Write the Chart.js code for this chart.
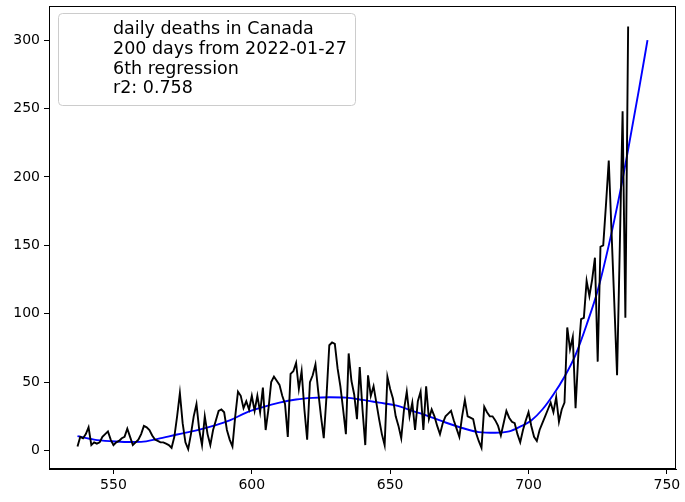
<!DOCTYPE html>
<html>
<head>
<meta charset="utf-8">
<script src="https://cdn.jsdelivr.net/npm/chart.js@4.4.0/dist/chart.umd.min.js"></script>
<style>
  html, body { margin: 0; padding: 0; background: #fff; }
  #wrap { width: 685px; height: 502px; }
</style>
</head>
<body>
<div id="wrap"><canvas id="chart" width="685" height="502"></canvas></div>
<script>
// daily deaths, one value per day starting at day 537
const START_DAY = 537;
const deaths = [
  3, 10, 9, 12, 17, 4, 6, 5, 6, 10,
  12, 14, 8, 4, 6, 7, 9, 10, 16, 10,
  4, 6, 8, 12, 18, 17, 15, 11, 8, 7,
  6, 6, 5, 4, 2, 10, 25, 42, 20, 6,
  1, 12, 25, 34, 15, 4, 25, 12, 4, 15,
  22, 29, 30, 28, 15, 8, 3, 25, 43, 40,
  31, 36, 30, 40, 29, 40, 28, 46, 15, 30,
  50, 54, 51, 48, 40, 34, 10, 56, 58, 64,
  45, 58, 30, 8, 50, 55, 63, 43, 25, 9,
  40, 77, 79, 78, 60, 47, 30, 12, 71, 51,
  41, 23, 61, 30, 4, 55, 40, 47, 35, 23,
  12, 4, 54, 45, 38, 25, 18, 9, 30, 43,
  25, 35, 15, 36, 43, 15, 47, 23, 30, 25,
  18, 12, 20, 25, 27, 29, 22, 16, 10, 25,
  37, 25, 24, 23, 13, 7, 2, 32, 28, 25,
  25, 22, 18, 11, 20, 29, 24, 21, 20, 12,
  6, 15, 22, 28, 18, 10, 7, 15, 20, 25,
  30, 35, 28, 39, 21, 30, 35, 90, 74, 83,
  31, 70, 96, 97, 124, 113, 125, 141, 65, 149,
  150, 180, 212, 160, 108, 55, 150, 248, 97, 310
];

// 6th degree regression curve
const fitDays = [537, 543, 549, 555, 560, 566, 573, 580, 586, 592, 598, 604, 610, 616, 622, 628, 634, 640, 646, 652, 658, 664, 670, 676, 682, 688, 693, 697, 701, 705, 709, 713, 717, 721, 725, 729, 733, 736, 740, 743];
const fitValues = [10.5, 8, 6.8, 6.2, 6.3, 8.5, 11.7, 14.7, 18, 22, 27.8, 31.8, 35, 37.3, 38.5, 39, 38.7, 37, 35, 33, 29, 25, 20.5, 16.5, 13.5, 13, 14, 17.5, 22, 30, 41, 54, 70, 92, 117, 150, 188, 220, 265, 300];

const xTicks = [550, 600, 650, 700, 750];
const yTicks = [0, 50, 100, 150, 200, 250, 300];
const legendLines = ['daily deaths in Canada', '200 days from 2022-01-27', '6th regression', 'r2: 0.758'];

const FONT = 'DejaVu Sans';

const deathPoints = deaths.map((v, i) => ({ x: START_DAY + i, y: v }));
const fitPoints = fitDays.map((d, i) => ({ x: d, y: fitValues[i] }));

// cadre complet + boîte de légende façon matplotlib
const framePlugin = {
    id: 'frame',
    afterDatasetsDraw(chart) {
        const { ctx, chartArea: a } = chart;
        ctx.save();
        ctx.strokeStyle = '#000';
        ctx.lineWidth = 1;
        ctx.strokeRect(a.left + 0.5, a.top + 0.5, a.right - a.left - 1, a.bottom - a.top - 1);

        // legend box
        const bx = 58.5, by = 13.5, bw = 297, bh = 92;
        ctx.beginPath();
        ctx.roundRect(bx, by, bw, bh, 4);
        ctx.fillStyle = 'rgba(255,255,255,0.8)';
        ctx.fill();
        ctx.strokeStyle = '#cccccc';
        ctx.stroke();

        ctx.fillStyle = '#000';
        ctx.font = '17.5px "' + FONT + '"';
        ctx.textBaseline = 'alphabetic';
        ctx.textAlign = 'left';
        legendLines.forEach((t, i) => {
            ctx.fillText(t, 113, 34 + i * 19.8);
        });
        ctx.restore();
    }
};

new Chart(document.getElementById('chart'), {
    type: 'line',
    data: {
        datasets: [
            {
                data: deathPoints,
                borderColor: '#000000',
                borderWidth: 1.9,
                pointRadius: 0,
                tension: 0
            },
            {
                data: fitPoints,
                borderColor: '#0000ff',
                borderWidth: 1.9,
                pointRadius: 0,
                cubicInterpolationMode: 'monotone'
            }
        ]
    },
    options: {
        responsive: false,
        animation: false,
        devicePixelRatio: 1,
        layout: { padding: { top: 6, right: 9, left: 0, bottom: 0 } },
        plugins: { legend: { display: false }, tooltip: { enabled: false } },
        scales: {
            x: {
                type: 'linear',
                min: 526.7,
                max: 753.3,
                afterBuildTicks: s => { s.ticks = xTicks.map(v => ({ value: v })); },
                afterFit: s => { s.height = 33; s.paddingLeft = 0; s.paddingRight = 0; },
                grid: { drawOnChartArea: false, drawTicks: true, tickLength: 5, tickColor: '#000' },
                border: { display: true, color: '#000' },
                ticks: { color: '#000', font: { family: FONT, size: 14 }, padding: 3, maxRotation: 0 }
            },
            y: {
                min: -13.5,
                max: 325,
                afterBuildTicks: s => { s.ticks = yTicks.map(v => ({ value: v })); },
                afterFit: s => { s.width = 49; s.paddingTop = 0; s.paddingBottom = 0; },
                grid: { drawOnChartArea: false, drawTicks: true, tickLength: 5, tickColor: '#000' },
                border: { display: true, color: '#000' },
                ticks: { color: '#000', font: { family: FONT, size: 14 }, padding: 4 }
            }
        }
    },
    plugins: [framePlugin]
});
</script>
</body>
</html>
